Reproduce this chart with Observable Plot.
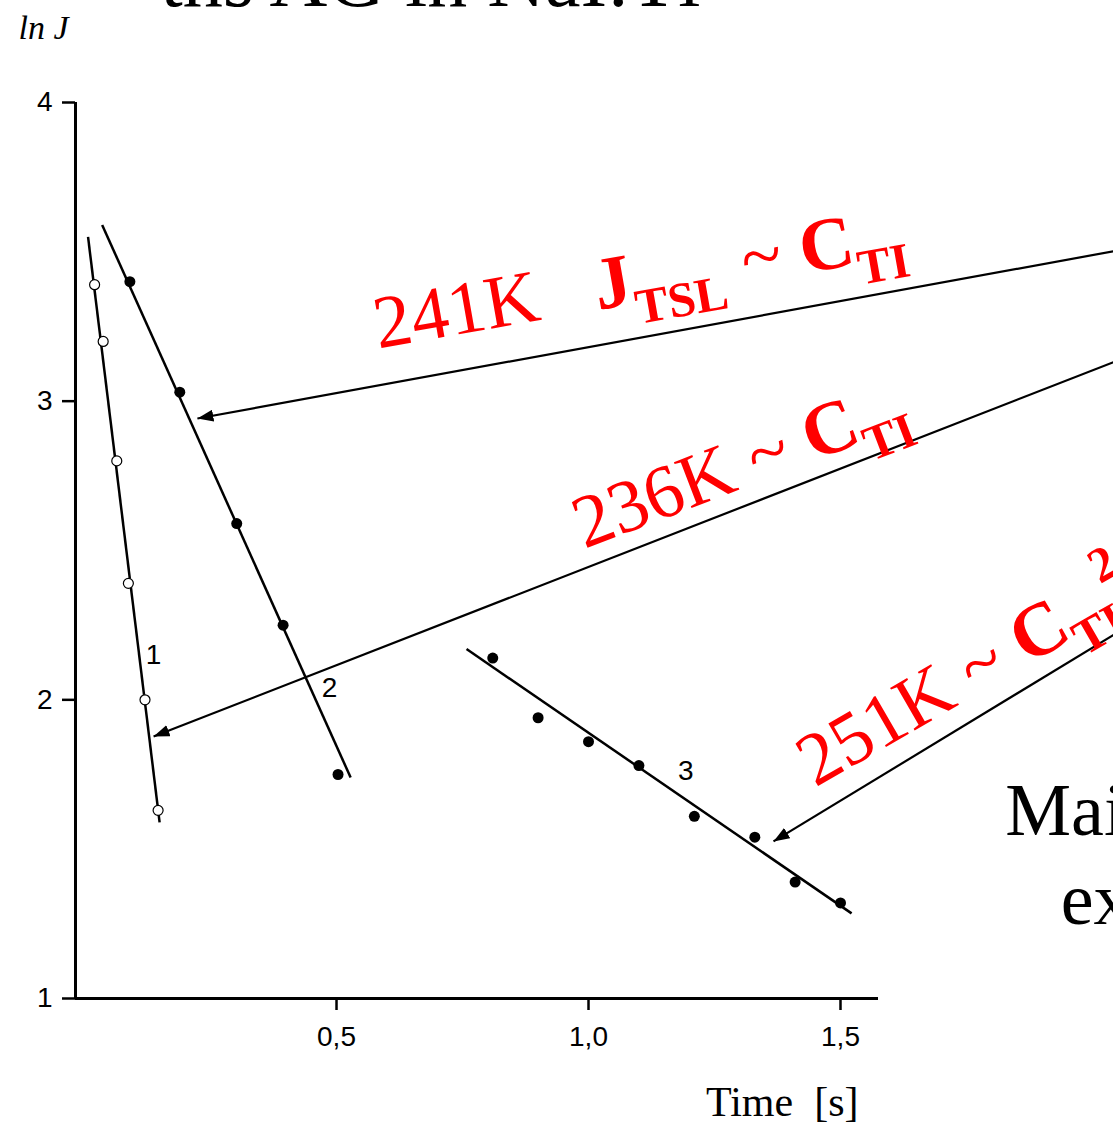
<!DOCTYPE html>
<html><head><meta charset="utf-8">
<script src="https://cdn.jsdelivr.net/npm/d3@7"></script>
<script src="https://cdn.jsdelivr.net/npm/@observablehq/plot@0.6"></script>
<style>html,body{margin:0;padding:0;background:#fff;overflow:hidden}</style>
</head><body><div id="chart"></div>
<script>
// ---- data (time in s, ln J) ----
const s1Time = [0.020, 0.037, 0.064, 0.087, 0.120, 0.146];
const s1LnJ  = [3.39, 3.20, 2.80, 2.39, 2.00, 1.63];
const s2Time = [0.090, 0.189, 0.302, 0.394, 0.503];
const s2LnJ  = [3.40, 3.03, 2.59, 2.25, 1.75];
const s3Time = [0.81, 0.90, 1.00, 1.10, 1.21, 1.33, 1.41, 1.50];
const s3LnJ  = [2.14, 1.94, 1.86, 1.78, 1.61, 1.54, 1.39, 1.32];
// fitted straight lines: start and end points
const fitStartTime = [0.007, 0.035, 0.758];
const fitStartLnJ  = [3.55, 3.59, 2.17];
const fitEndTime   = [0.149, 0.528, 1.522];
const fitEndLnJ    = [1.59, 1.74, 1.285];
// curve numbers
const curveNames    = ["1", "2", "3"];
const curveNameTime = [0.137, 0.486, 1.193];
const curveNameLnJ  = [2.15, 2.04, 1.76];
// annotation arrows (tail -> head)
const arrowTailTime = [2.214, 2.214, 2.214];
const arrowTailLnJ  = [3.555, 3.244, 2.394];
const arrowHeadTime = [0.224, 0.137, 1.367];
const arrowHeadLnJ  = [2.942, 1.877, 1.526];
// annotation texts
const annoTexts = ["241K   *J*_{TSL} ~ *C*_{TI}", "236K ~ *C*_{TI}", "251K ~ *C*_{TI}^{2}"];
const annoTime  = [0.583, 0.992, 1.450];
const annoLnJ   = [3.176, 2.505, 1.706];
const annoAngle = [-10, -21, -30];
// slide texts partly outside the picture
const slideTexts = ["ths AG in NaI:Tl", "Mai", "ex"];
const slideTime  = [0.151, 1.827, 1.937];
const slideLnJ   = [4.322, 1.549, 1.251];
// axes
const yTicks = [1, 2, 3, 4];
const xTicks = [0.5, 1.0, 1.5];
const xDomain = [-0.0179, 1.5754];
const yDomain = [1, 4];

const serif = "'Liberation Serif', 'Times New Roman', serif";
const idx = n => d3.range(n);

const chart = Plot.plot({
  width: 1113, height: 1124,
  marginLeft: 75, marginRight: 235, marginTop: 102, marginBottom: 126,
  style: {background: "white", fontFamily: "'Liberation Sans', Arial, sans-serif"},
  x: {domain: xDomain},
  y: {domain: yDomain},
  marks: [
    Plot.axisY(yTicks, {tickSize: 13, tickPadding: 10, fontSize: 28, strokeWidth: 2.5, label: null,
      tickFormat: d => String(d)}),
    Plot.axisX(xTicks, {tickSize: 12, tickPadding: 16, fontSize: 28, strokeWidth: 2.5, label: null,
      tickFormat: d => d.toFixed(1).replace(".", ",")}),
    Plot.ruleY([yDomain[0]], {strokeWidth: 3}),
    Plot.ruleX([xDomain[0]], {y1: yDomain[0], y2: yDomain[1], strokeWidth: 3}),
    Plot.link(idx(3), {x1: i => fitStartTime[i], y1: i => fitStartLnJ[i], x2: i => fitEndTime[i], y2: i => fitEndLnJ[i], stroke: "black", strokeWidth: 2.5}),
    Plot.link(idx(3), {x1: i => arrowTailTime[i], y1: i => arrowTailLnJ[i], x2: i => arrowHeadTime[i], y2: i => arrowHeadLnJ[i], stroke: "black", strokeWidth: 2.2, markerEnd: "arrow"}),
    Plot.dot(idx(s1Time.length), {x: i => s1Time[i], y: i => s1LnJ[i], r: 5, fill: "white", stroke: "black", strokeWidth: 1.2}),
    Plot.dot(idx(s2Time.length), {x: i => s2Time[i], y: i => s2LnJ[i], r: 5.5, fill: "black", stroke: "none"}),
    Plot.dot(idx(s3Time.length), {x: i => s3Time[i], y: i => s3LnJ[i], r: 5.5, fill: "black", stroke: "none"}),
    Plot.text(curveNames, {x: (d, i) => curveNameTime[i], y: (d, i) => curveNameLnJ[i], text: d => d, fontSize: 28, fill: "black"}),
    Plot.text(annoTexts, {x: (d, i) => annoTime[i], y: (d, i) => annoLnJ[i], text: d => d, rotate: (d, i) => annoAngle[i],
      textAnchor: "start", lineAnchor: "bottom", fill: "red", fontSize: 75, fontFamily: serif}),
    Plot.text(slideTexts, {x: (d, i) => slideTime[i], y: (d, i) => slideLnJ[i], text: d => d,
      textAnchor: "start", lineAnchor: "bottom", fill: "black", fontSize: (d, i) => i === 0 ? 80 : 74, fontFamily: serif}),
    Plot.text(["ln J"], {x: -0.131, y: 4.214, text: d => d, textAnchor: "start", lineAnchor: "bottom", fontSize: 34, fontStyle: "italic", fontFamily: serif}),
    Plot.text(["Time\u00a0 [s]"], {x: 1.5357, y: 0.608, text: d => d, textAnchor: "end", lineAnchor: "bottom", fontSize: 42, fontFamily: serif})
  ]
});

// filled triangular arrow heads
d3.select(chart).selectAll("marker").each(function () {
  const m = d3.select(this);
  m.attr("viewBox", "-16 -6 16 12").attr("markerWidth", 16).attr("markerHeight", 12)
    .attr("markerUnits", "userSpaceOnUse").attr("refX", 0).attr("refY", 0)
    .attr("fill", "black").attr("stroke", "none");
  m.selectAll("*").remove();
  m.append("path").attr("d", "M-16,-6L0,0L-16,6Z");
});

// rich text: *bold*, _{subscript}, ^{superscript}
const F = 75;
d3.select(chart).selectAll("text").filter(function () { return /\*|_\{|\^\{/.test(this.textContent); }).each(function () {
  const s = this.textContent;
  this.textContent = "";
  this.style.whiteSpace = "pre";
  const parts = s.split(/(\*[^*]+\*|_\{[^}]+\}|\^\{[^}]+\})/).filter(p => p);
  let shift = 0;
  for (const p of parts) {
    const t = document.createElementNS("http://www.w3.org/2000/svg", "tspan");
    let target = 0;
    if (p.startsWith("*")) { t.textContent = p.slice(1, -1); t.setAttribute("font-weight", "bold"); }
    else if (p.startsWith("_{")) { t.textContent = p.slice(2, -1); t.setAttribute("font-weight", "bold"); t.setAttribute("font-size", 0.66 * F); target = 0.28 * F; }
    else if (p.startsWith("^{")) { t.textContent = p.slice(2, -1); t.setAttribute("font-weight", "bold"); t.setAttribute("font-size", 0.66 * F); t.setAttribute("dx", -0.04 * F); target = -0.45 * F; }
    else { t.textContent = p; }
    t.setAttribute("dy", target - shift);
    shift = target;
    this.appendChild(t);
  }
});

document.getElementById("chart").appendChild(chart);
</script>
</body></html>
